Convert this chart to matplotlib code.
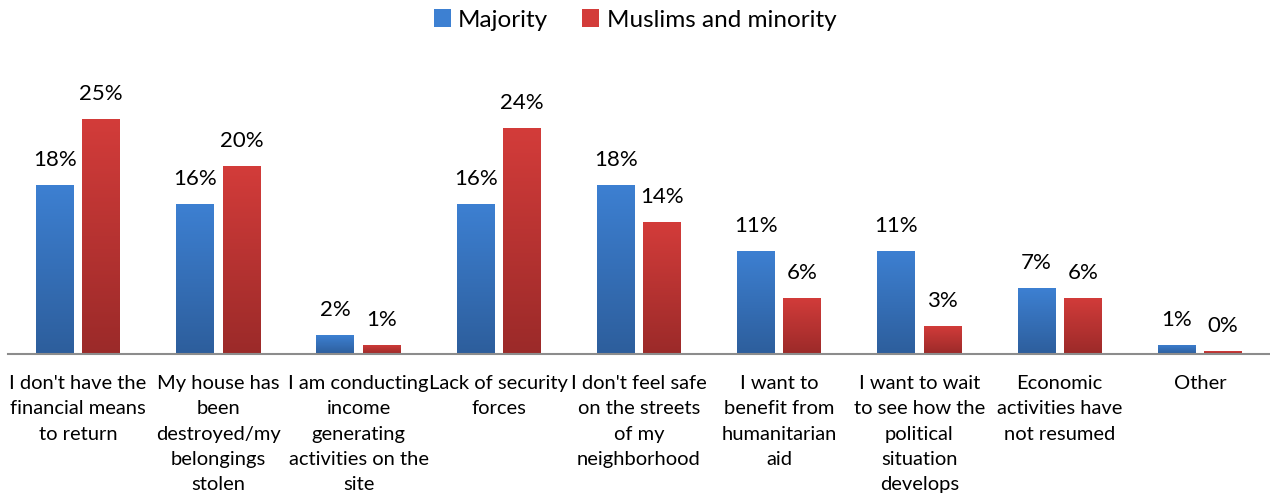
import numpy as np
import matplotlib.pyplot as plt
from matplotlib.colors import LinearSegmentedColormap

plt.rcParams['font.family'] = ['Lato', 'DejaVu Sans']

categories = [
    "I don't have the\nfinancial means\nto return",
    "My house has\nbeen\ndestroyed/my\nbelongings\nstolen",
    "I am conducting\nincome\ngenerating\nactivities on the\nsite",
    "Lack of security\nforces",
    "I don't feel safe\non the streets\nof my\nneighborhood",
    "I want to\nbenefit from\nhumanitarian\naid",
    "I want to wait\nto see how the\npolitical\nsituation\ndevelops",
    "Economic\nactivities have\nnot resumed",
    "Other",
]
majority = [18, 16, 2, 16, 18, 11, 11, 7, 1]
minority = [25, 20, 1, 24, 14, 6, 3, 6, 0.3]
minority_labels = ['25%', '20%', '1%', '24%', '14%', '6%', '3%', '6%', '0%']
majority_labels = ['18%', '16%', '2%', '16%', '18%', '11%', '11%', '7%', '1%']

blue_top, blue_bot = '#3d80d2', '#2d5e9c'
red_top, red_bot = '#d33c3a', '#9b2a29'

fig = plt.figure(figsize=(12.7, 4.96), dpi=100)
ax = fig.add_axes([8 / 1270, 1 - 354 / 496, 1 - 8 / 1270, (354 - 72) / 496])

x = np.arange(len(categories))
w = 0.27
off = 0.165


def gradient_bars(xs, vals, top, bot, label):
    bars = ax.bar(xs, vals, w, color=top, label=label, zorder=2)
    cmap = LinearSegmentedColormap.from_list('g', [bot, top])
    grad = np.linspace(0, 1, 256).reshape(-1, 1)
    for b in bars:
        x0, h = b.get_x(), b.get_height()
        im = ax.imshow(grad, cmap=cmap, aspect='auto', origin='lower',
                       extent=[x0, x0 + w, 0, h], zorder=3)
        im.set_clip_path(b)
    return bars


gradient_bars(x - off, majority, blue_top, blue_bot, 'Majority')
gradient_bars(x + off, minority, red_top, red_bot, 'Muslims and minority')

for xi, v, t in zip(x - off, majority, majority_labels):
    ax.text(xi, v + 1.6, t, ha='center', va='bottom', fontsize=16)
for xi, v, t in zip(x + off, minority, minority_labels):
    ax.text(xi, v + 1.6, t, ha='center', va='bottom', fontsize=16)

ax.set_xlim(-0.5, len(categories) - 0.5)
ax.set_ylim(0, 30)
ax.set_xticks(x)
ax.set_xticklabels(categories, fontsize=14.5, linespacing=1.6, va='top')
ax.tick_params(axis='x', length=0, pad=15)
ax.set_yticks([])
for s in ['top', 'right', 'left']:
    ax.spines[s].set_visible(False)
ax.spines['bottom'].set_color('#8c8c8c')
ax.spines['bottom'].set_linewidth(1.5)
ax.spines['bottom'].set_zorder(5)

handles, labels = ax.get_legend_handles_labels()
fig.legend(handles, labels, loc='center', bbox_to_anchor=(0.5, 1 - 20 / 496),
           ncol=2, frameon=False, fontsize=17.5, handlelength=0.7, handleheight=0.7,
           handletextpad=0.3, columnspacing=1.4)

fig.savefig('out.png', dpi=100)
